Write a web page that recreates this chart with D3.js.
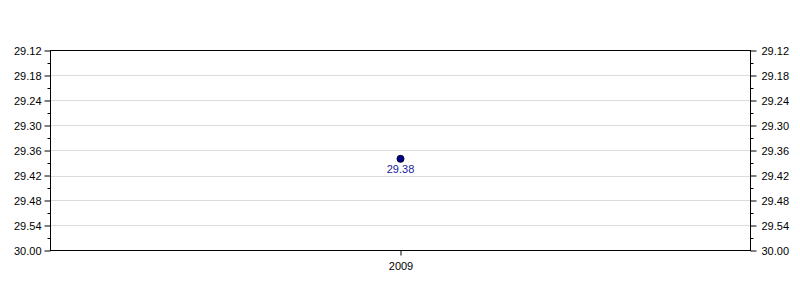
<!DOCTYPE html>
<html>
<head>
<meta charset="utf-8">
<script src="https://cdn.jsdelivr.net/npm/d3@7"></script>
<style>
body { margin: 0; background: #fff; }
svg { display: block; font-family: "Liberation Sans", Arial, sans-serif; }
</style>
</head>
<body>
<svg id="chart" width="800" height="300"></svg>
<script>
const categories = ["2009"];
const values = [29.38];
const valueLabels = ["29.38"];
const tickValues = [29.12, 29.18, 29.24, 29.30, 29.36, 29.42, 29.48, 29.54, 29.60];
const tickLabels = ["29.12", "29.18", "29.24", "29.30", "29.36", "29.42", "29.48", "29.54", "30.00"];
const minorTickValues = [29.15, 29.21, 29.27, 29.33, 29.39, 29.45, 29.51, 29.57];

const svg = d3.select("#chart");
const m = { left: 50.5, right: 750.5, top: 50.5, bottom: 250.5 };

const y = d3.scaleLinear().domain([29.12, 29.60]).range([m.top, m.bottom]);
const x = d3.scalePoint().domain(categories).range([m.left, m.right]).padding(0.5);

// gridlines
svg.append("g").selectAll("line").data(tickValues.slice(1, -1)).join("line")
  .attr("x1", m.left).attr("x2", m.right)
  .attr("y1", d => Math.round(y(d)) + 0.5).attr("y2", d => Math.round(y(d)) + 0.5)
  .attr("stroke", "#dcdcdc").attr("stroke-width", 1);

const fmt = d => tickLabels[tickValues.indexOf(d)];

function styleAxis(g) {
  g.select(".domain").remove();
  g.selectAll(".tick line").attr("stroke", "#000");
  g.selectAll(".tick text").attr("fill", "#000").style("font-size", "11px")
    .style("font-family", "'Liberation Sans', Arial, sans-serif");
}

// left axis
const leftAxis = svg.append("g").attr("transform", `translate(${m.left},0)`)
  .call(d3.axisLeft(y).tickValues(tickValues).tickFormat(fmt).tickSize(6).tickPadding(3));
styleAxis(leftAxis);
svg.append("g").attr("transform", `translate(${m.left},0)`)
  .call(d3.axisLeft(y).tickValues(minorTickValues).tickFormat("").tickSize(3))
  .call(g => { g.select(".domain").remove(); g.selectAll("line").attr("stroke", "#000"); });

// right axis
const rightAxis = svg.append("g").attr("transform", `translate(${m.right},0)`)
  .call(d3.axisRight(y).tickValues(tickValues).tickFormat(fmt).tickSize(6).tickPadding(5));
styleAxis(rightAxis);
svg.append("g").attr("transform", `translate(${m.right},0)`)
  .call(d3.axisRight(y).tickValues(minorTickValues).tickFormat("").tickSize(3))
  .call(g => { g.select(".domain").remove(); g.selectAll("line").attr("stroke", "#000"); });

// bottom axis
const bottomAxis = svg.append("g").attr("transform", `translate(0,${m.bottom})`)
  .call(d3.axisBottom(x).tickSize(5).tickPadding(7));
styleAxis(bottomAxis);

// frame
svg.append("rect").attr("x", m.left).attr("y", m.top)
  .attr("width", m.right - m.left).attr("height", m.bottom - m.top)
  .attr("fill", "none").attr("stroke", "#000").attr("stroke-width", 1);

// points
const pts = categories.map((c, i) => ({ c, v: values[i], l: valueLabels[i] }));
svg.append("g").selectAll("circle").data(pts).join("circle")
  .attr("cx", d => x(d.c)).attr("cy", d => y(d.v)).attr("r", 3.5)
  .attr("fill", "#00008b").attr("stroke", "#000022").attr("stroke-width", 1);
svg.append("g").selectAll("text").data(pts).join("text")
  .attr("x", d => x(d.c)).attr("y", d => y(d.v) + 14)
  .attr("text-anchor", "middle").attr("fill", "#1a1aa0")
  .style("font-size", "11px").text(d => d.l);
</script>
</body>
</html>
